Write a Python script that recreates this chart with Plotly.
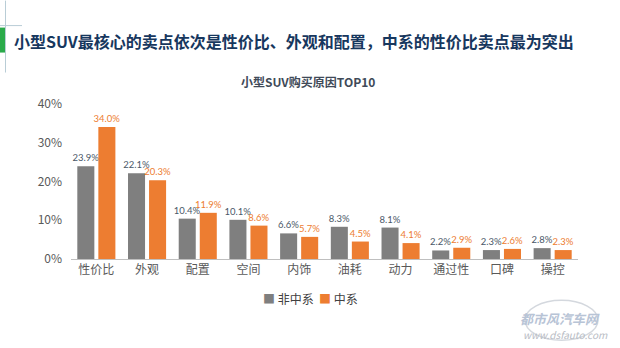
import plotly.graph_objects as go

categories = ["性价比", "外观", "配置", "空间", "内饰", "油耗", "动力", "通过性", "口碑", "操控"]
non_china = [23.9, 22.1, 10.4, 10.1, 6.6, 8.3, 8.1, 2.2, 2.3, 2.8]
china = [34.0, 20.3, 11.9, 8.6, 5.7, 4.5, 4.1, 2.9, 2.6, 2.3]
series_names = ["非中系", "中系"]
y_ticks = [0, 10, 20, 30, 40]
y_tick_labels = ["0%", "10%", "20%", "30%", "40%"]

FONT = "Noto Sans CJK SC, Noto Sans, sans-serif"
LABEL_FONT = "Lato, Noto Sans, sans-serif"
GRAY = "#7f7f7f"
ORANGE = "#ed7d31"

fig = go.Figure()
fig.add_trace(go.Bar(
    x=categories, y=non_china, name=series_names[0],
    marker=dict(color=GRAY, line=dict(width=0)),
    text=[f"{v:.1f}%" for v in non_china], textposition="outside",
    textfont=dict(size=9.5, color="#4a5868", family=LABEL_FONT),
    cliponaxis=False, constraintext="none", showlegend=False,
))
fig.add_trace(go.Bar(
    x=categories, y=china, name=series_names[1],
    marker=dict(color=ORANGE, line=dict(width=0)),
    text=[f"{v:.1f}%" for v in china], textposition="outside",
    textfont=dict(size=9.5, color=ORANGE, family=LABEL_FONT),
    cliponaxis=False, constraintext="none", showlegend=False,
))

W, H = 620, 348
l, r, t, b = 71, 42, 95.5, 89.3
pw, ph = W - l - r, H - t - b

def px_ann(text, x, y, size, color, xanchor="center", **kw):
    return dict(text=text, x=(x - l) / pw, y=(H - b - y) / ph, xref="paper", yref="paper",
                showarrow=False, xanchor=xanchor, yanchor="middle",
                font=dict(size=size, color=color, family=FONT), **kw)

def px_shape(x0, y0, x1, y1, **kw):
    return dict(xref="paper", yref="paper",
                x0=(x0 - l) / pw, x1=(x1 - l) / pw,
                y0=(H - b - y0) / ph, y1=(H - b - y1) / ph, **kw)

legend_text = (f"<span style='color:{GRAY}'>■</span> {series_names[0]}  "
               f"<span style='color:{ORANGE}'>■</span> {series_names[1]}")

fig.update_layout(
    width=W, height=H,
    margin=dict(l=l, r=r, t=t, b=b),
    paper_bgcolor="white", plot_bgcolor="white",
    barmode="group", bargap=0.17, bargroupgap=0.19,
    font=dict(family=FONT, color="#595959"),
    showlegend=False,
    xaxis=dict(range=[-0.5, 9.5], showline=True, linecolor="#bfbfbf", linewidth=1,
               ticks="", showgrid=False, tickfont=dict(size=12, color="#595959", family=FONT)),
    yaxis=dict(range=[0, 42], tickvals=y_ticks, ticktext=y_tick_labels, showgrid=False,
               zeroline=False, showline=False, ticks="", ticklabelstandoff=8,
               tickfont=dict(size=12, color="#595959", family=FONT)),
    annotations=[
        px_ann("<b>小型SUV最核心的卖点依次是性价比、外观和配置，中系的性价比卖点最为突出</b>",
               12, 40, 16, "#17375e", xanchor="left"),
        px_ann("<b>小型SUV购买原因TOP10</b>", 308, 81, 12, "#404a58"),
        px_ann(legend_text, 310, 298, 12, "#404040"),
        px_ann("<i><b>都市风汽车网</b></i>", 560, 318, 13, "#b8c4d6"),
        px_ann("<i>www.dsfauto.com</i>", 565, 334, 10, "#b8bcc4"),
    ],
    shapes=[
        px_shape(0, 27, 5, 52, type="rect", fillcolor="#2aaa4a", line=dict(width=0)),
        px_shape(5.5, 0, 5.5, 72, type="line", line=dict(color="#b9cdd6", width=1)),
        px_shape(0, 25, 22, 25, type="line", line=dict(color="#b9cdd6", width=1)),
        px_shape(525, 300, 598, 340, type="circle", line=dict(color="#d4d8de", width=1.5)),
    ],
)

fig.write_html("out.html")
